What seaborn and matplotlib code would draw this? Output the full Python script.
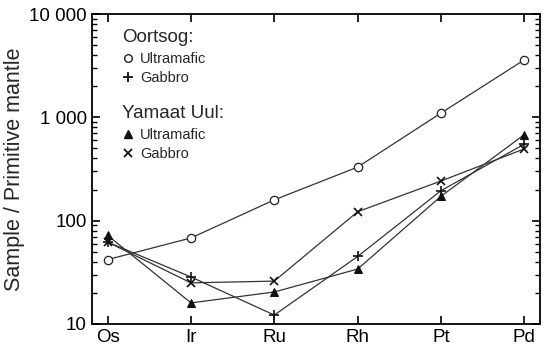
import matplotlib
matplotlib.use("Agg")
import matplotlib.pyplot as plt
import seaborn as sns
import pandas as pd
from matplotlib.lines import Line2D
from matplotlib.ticker import FixedLocator, FuncFormatter, LogLocator

elements = ["Os", "Ir", "Ru", "Rh", "Pt", "Pd"]
oortsog_ultramafic = [42, 68, 159, 330, 1100, 3600]
oortsog_gabbro = [62, 28.5, 12.2, 45, 195, 550]
yamaat_ultramafic = [72, 16, 20.4, 34, 172, 680]
yamaat_gabbro = [62, 25, 26, 122, 242, 495]

sns.set_theme(style="ticks")
plt.rcParams["font.family"] = ["Liberation Sans", "DejaVu Sans"]

fig = plt.figure(figsize=(5.5, 3.51), dpi=100)
ax = fig.add_axes([0.167, 0.077, 0.815, 0.883])

series = [
    ("Oortsog Ultramafic", oortsog_ultramafic, "o", dict(markerfacecolor="white", markeredgecolor="#222222", markersize=6, markeredgewidth=0.9)),
    ("Oortsog Gabbro", oortsog_gabbro, "+", dict(markersize=7, markeredgewidth=1.2, markeredgecolor="#111111")),
    ("Yamaat Ultramafic", yamaat_ultramafic, "^", dict(markerfacecolor="#111111", markeredgecolor="#111111", markersize=6)),
    ("Yamaat Gabbro", yamaat_gabbro, "x", dict(markersize=5.5, markeredgewidth=1.2, markeredgecolor="#111111")),
]

for name, vals, mk, kw in series:
    df = pd.DataFrame({"element": elements, "value": vals})
    sns.lineplot(data=df, x="element", y="value", sort=False, ax=ax,
                 color="#333333", linewidth=0.9, marker=mk, **kw)

ax.set_yscale("log")
ax.set_ylim(10, 10000)
ax.set_xlim(-0.19, 5.19)
ax.yaxis.set_major_locator(FixedLocator([10, 100, 1000, 10000]))
ax.yaxis.set_major_formatter(FuncFormatter(lambda v, p: f"{int(round(v)):,}".replace(",", " ")))
ax.yaxis.set_minor_locator(LogLocator(base=10, subs=range(2, 10)))
ax.tick_params(axis="both", which="both", direction="in", top=True, right=True,
               labelsize=13.5, colors="black")
ax.tick_params(axis="both", which="major", length=6, width=1.2)
ax.tick_params(axis="y", which="minor", length=3.5, width=1)
ax.tick_params(axis="x", which="minor", length=0)
for s in ax.spines.values():
    s.set_linewidth(1.3)
    s.set_color("black")
ax.set_xlabel("")
ax.set_ylabel("Sample / Primitive mantle", fontsize=15.5, labelpad=3)

h1 = [Line2D([], [], linestyle="none", marker="o", markerfacecolor="white", markeredgecolor="#222222", markersize=5.5),
      Line2D([], [], linestyle="none", marker="+", color="#111111", markersize=7, markeredgewidth=1.3)]
h2 = [Line2D([], [], linestyle="none", marker="^", color="#111111", markersize=5.5),
      Line2D([], [], linestyle="none", marker="x", color="#111111", markersize=5.5, markeredgewidth=1.3)]

common = dict(loc="upper left", frameon=False, fontsize=10.5, title_fontsize=13.5,
              handlelength=0.8, handletextpad=0.4, labelspacing=0.38, borderaxespad=0)
leg1 = ax.legend(h1, ["Ultramafic", "Gabbro"], title="Oortsog:",
                 bbox_to_anchor=(0.055, 0.97), **common)
leg1._legend_box.align = "left"
leg1._legend_box.sep = 4
ax.add_artist(leg1)
leg2 = ax.legend(h2, ["Ultramafic", "Gabbro"], title="Yamaat Uul:",
                 bbox_to_anchor=(0.055, 0.725), **common)
leg2._legend_box.align = "left"
leg2._legend_box.sep = 4

fig.savefig("out.png", dpi=100)
